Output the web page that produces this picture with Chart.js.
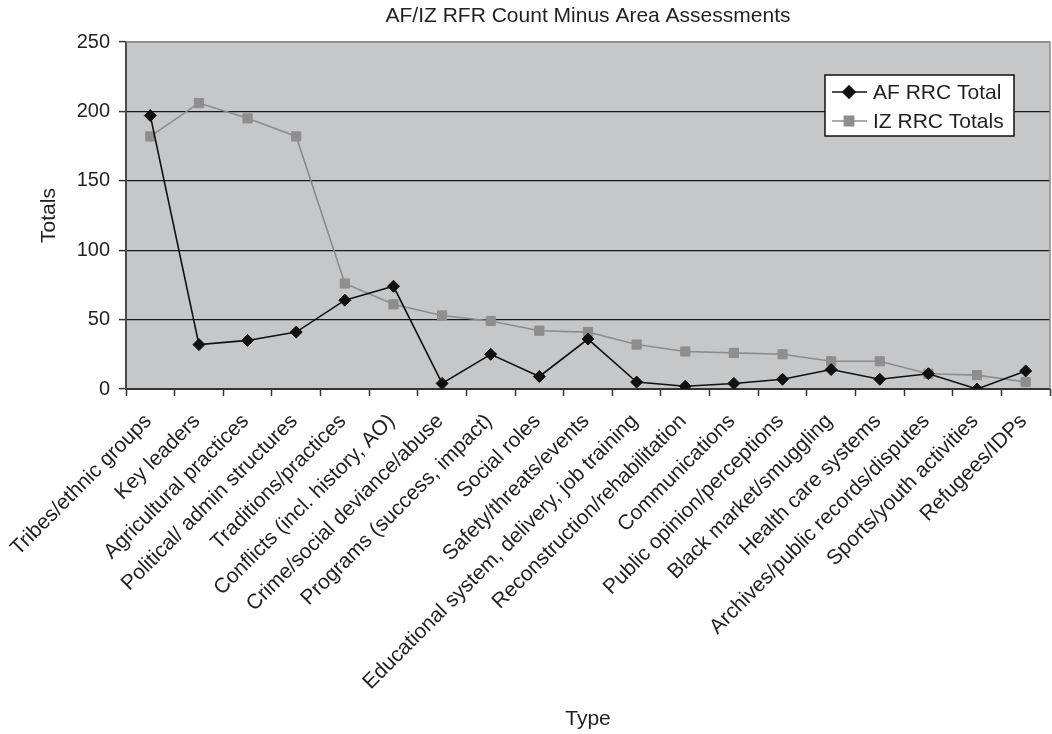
<!DOCTYPE html>
<html>
<head>
<meta charset="utf-8">
<title>AF/IZ RFR Count Minus Area Assessments</title>
<script src="https://cdn.jsdelivr.net/npm/chart.js@4.4.1/dist/chart.umd.min.js"></script>
<style>
  html, body { margin: 0; padding: 0; background: #ffffff; }
  #wrap { position: relative; width: 1052px; height: 734px; }
</style>
</head>
<body>
<div id="wrap"><canvas id="chart" width="1052" height="734"></canvas></div>
<script>
// Assessment types along the x axis
const categories = [
  "Tribes/ethnic groups",
  "Key leaders",
  "Agricultural practices",
  "Political/ admin structures",
  "Traditions/practices",
  "Conflicts (incl. history, AO)",
  "Crime/social deviance/abuse",
  "Programs (success, impact)",
  "Social roles",
  "Safety/threats/events",
  "Educational system, delivery, job training",
  "Reconstruction/rehabilitation",
  "Communications",
  "Public opinion/perceptions",
  "Black market/smuggling",
  "Health care systems",
  "Archives/public records/disputes",
  "Sports/youth activities",
  "Refugees/IDPs"
];

// RFR counts per type
const afTotals = [197, 32, 35, 41, 64, 74, 4, 25, 9, 36, 5, 2, 4, 7, 14, 7, 11, 0, 13];
const izTotals = [182, 206, 195, 182, 76, 61, 53, 49, 42, 41, 32, 27, 26, 25, 20, 20, 11, 10, 5];

const yTicks = [0, 50, 100, 150, 200, 250];

const FONT = "'Liberation Sans', Arial, Helvetica, sans-serif";
const TEXT = "#231f20";
const PLOT_BG = "#c6c7c9";

// gray plot area + thin frame on top/right
const plotArea = {
  id: "plotArea",
  beforeDraw(chart) {
    const { ctx, chartArea: a } = chart;
    ctx.save();
    ctx.fillStyle = PLOT_BG;
    ctx.fillRect(a.left, a.top, a.right - a.left, a.bottom - a.top);
    ctx.restore();
  },
  afterDraw(chart) {
    const { ctx, chartArea: a } = chart;
    ctx.save();
    ctx.strokeStyle = "#8a8a8a";
    ctx.lineWidth = 1.5;
    ctx.beginPath();
    ctx.moveTo(a.left, a.top);
    ctx.lineTo(a.right, a.top);
    ctx.lineTo(a.right, a.bottom);
    ctx.stroke();

    // chart title, centred over the plot
    ctx.fillStyle = TEXT;
    ctx.font = "21px " + FONT;
    ctx.textAlign = "center";
    ctx.textBaseline = "middle";
    ctx.fillText("AF/IZ RFR Count Minus Area Assessments", (a.left + a.right) / 2, 16);
    ctx.restore();
  }
};

// boxed legend sitting inside the plot, top right
const boxLegend = {
  id: "boxLegend",
  afterDraw(chart) {
    const { ctx } = chart;
    const x = 825, y = 75, w = 189, h = 61;
    ctx.save();
    ctx.fillStyle = "#ffffff";
    ctx.fillRect(x, y, w, h);
    ctx.strokeStyle = "#111111";
    ctx.lineWidth = 1.5;
    ctx.strokeRect(x, y, w, h);

    const rows = [y + 17, y + 46];
    chart.data.datasets.forEach((ds, i) => {
      const cy = rows[i];
      ctx.strokeStyle = ds.borderColor;
      ctx.lineWidth = ds.borderWidth;
      ctx.beginPath();
      ctx.moveTo(x + 7, cy);
      ctx.lineTo(x + 42, cy);
      ctx.stroke();
      Chart.helpers.drawPoint(ctx, {
        pointStyle: ds.pointStyle,
        radius: ds.pointRadius,
        borderWidth: 1
      }, x + 24, cy);
      ctx.fillStyle = ds.pointBackgroundColor;
      ctx.strokeStyle = ds.pointBorderColor;
      ctx.fill();
      ctx.fillStyle = TEXT;
      ctx.font = "21px " + FONT;
      ctx.textAlign = "left";
      ctx.textBaseline = "middle";
      ctx.fillText(ds.label, x + 48, cy + 1);
    });
    ctx.restore();
  }
};

new Chart(document.getElementById("chart"), {
  type: "line",
  data: {
    labels: categories,
    datasets: [
      {
        label: "AF RRC Total",
        data: afTotals,
        borderColor: "#111111",
        borderWidth: 1.6,
        pointStyle: "rectRot",
        pointRadius: 6,
        pointBackgroundColor: "#111111",
        pointBorderColor: "#111111",
        pointBorderWidth: 1,
        tension: 0,
        order: 1
      },
      {
        label: "IZ RRC Totals",
        data: izTotals,
        borderColor: "#8c8c8c",
        borderWidth: 1.6,
        pointStyle: "rect",
        pointRadius: 6.5,
        pointBackgroundColor: "#8e8e8e",
        pointBorderColor: "#8e8e8e",
        pointBorderWidth: 1,
        tension: 0,
        order: 2
      }
    ]
  },
  options: {
    responsive: false,
    animation: false,
    layout: {
      autoPadding: false,
      padding: { top: 42, right: 2, bottom: 0, left: 0 }
    },
    plugins: {
      legend: { display: false },
      title: { display: false },
      tooltip: { enabled: false }
    },
    scales: {
      x: {
        offset: true,
        grid: {
          offset: true,
          drawOnChartArea: false,
          drawTicks: true,
          tickLength: 7,
          tickColor: "#333333",
          tickWidth: 1.5
        },
        border: { display: true, color: "#333333", width: 2 },
        ticks: {
          autoSkip: false,
          minRotation: 45,
          maxRotation: 45,
          padding: 13,
          labelOffset: -2,
          color: TEXT,
          font: { family: FONT, size: 21 }
        },
        title: {
          display: true,
          text: "Type",
          color: TEXT,
          font: { family: FONT, size: 21 },
          padding: { top: 0, bottom: 2 }
        },
        afterFit(scale) {
          // fixed axis band; rotated labels may hang past the plot edges
          scale.height = 345;
          scale.paddingLeft = 0;
          scale.paddingRight = 0;
        }
      },
      y: {
        min: 0,
        max: 250,
        afterBuildTicks(scale) { scale.ticks = yTicks.map(v => ({ value: v })); },
        grid: {
          color: ctx => (ctx.tick && ctx.tick.value === 250 ? "#8a8a8a" : "#1a1a1a"),
          lineWidth: 1.2,
          drawTicks: true,
          tickLength: 7,
          tickColor: "#333333",
          tickWidth: 1.5
        },
        border: { display: true, color: "#4a4a4a", width: 2 },
        ticks: {
          padding: 9,
          color: TEXT,
          font: { family: FONT, size: 20 }
        },
        title: {
          display: true,
          text: "Totals",
          color: TEXT,
          font: { family: FONT, size: 21 },
          padding: { top: 37, bottom: 0 }
        },
        afterFit(scale) { scale.width = 126; }
      }
    }
  },
  plugins: [plotArea, boxLegend]
});
</script>
</body>
</html>
